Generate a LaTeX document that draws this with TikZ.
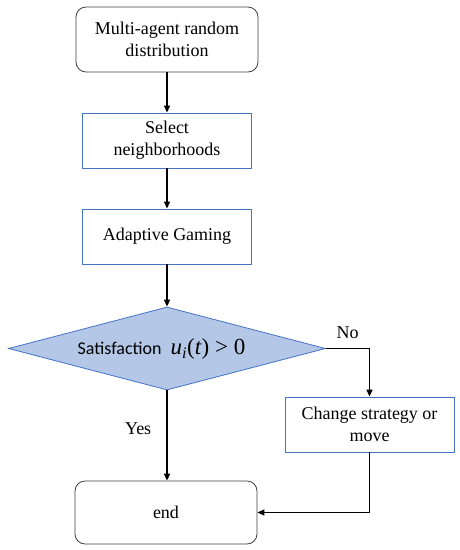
\documentclass[tikz,border=0pt]{standalone}
\usepackage{fontspec}
\setmainfont{Liberation Serif}
\newfontfamily\calfont{Carlito}
\usetikzlibrary{arrows.meta, positioning, shapes.geometric}
\definecolor{boxblue}{HTML}{4472C4}
\definecolor{dmdfill}{HTML}{B4C7E7}
\definecolor{rimgray}{HTML}{404040}

\begin{document}
\begin{tikzpicture}[x=1pt, y=-1pt, >={Triangle[length=7pt, width=6pt]},
  every node/.style={font=\fontsize{18}{22}\selectfont, inner sep=0pt},
  termbox/.style={draw=rimgray, line width=0.8pt, rounded corners=10pt, minimum width=182pt, align=center},
  procbox/.style={draw=boxblue, line width=0.9pt, minimum width=169pt, minimum height=55pt, align=center},
  flow/.style={->, black, line width=1.5pt}]

% Background
\fill[white] (0,0) rectangle (459,550);
\useasboundingbox (0,0) rectangle (459,550);

% Main column, x = 167
\node[termbox, minimum height=65pt] (start) at (167,39.5) {Multi-agent random\\distribution};
\node[procbox] (select) at (167,140.5) {Select\\neighborhoods};
\node[procbox] (adapt) at (167,236.5) {Adaptive Gaming};

% Decision
\node[diamond, draw=boxblue, fill=dmdfill, line width=0.8pt, minimum width=317pt, minimum height=83pt] (decide) at (167,348.5) {};
\node (cond) at (161.5,349) {{\calfont Satisfaction}\hspace{9pt}{\fontsize{23}{26}\selectfont\textit{u}\textsubscript{\textit{i}}(\textit{t}) > 0}};

% Side branch and end
\node[procbox] (change) at (369.5,424.5) {Change strategy or\\move};
\node[termbox, minimum height=63pt] (end) at (166,512.5) {end};

% Connectors
\draw[flow] (start) -- (select);
\draw[flow] (select) -- (adapt);
\draw[flow] (adapt) -- (decide);
\draw[flow] (decide.south) -- node[pos=0.42, left=15pt] (yes) {Yes} (end.north -| decide.south);
\draw[flow] (decide.east) -| node[pos=0.25, above=9pt] (no) {No} (change.north);
\draw[flow] (change.south) |- (end.east);

\end{tikzpicture}
\end{document}
